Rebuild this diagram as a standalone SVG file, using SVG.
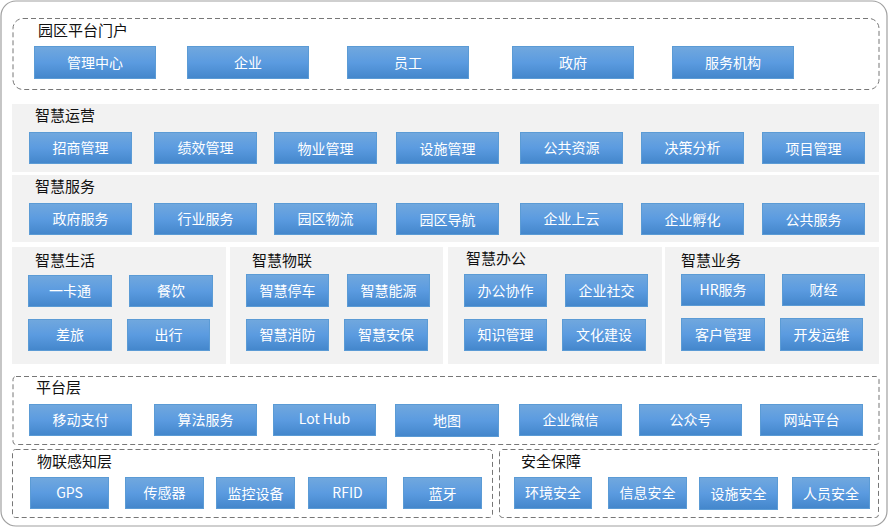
<svg xmlns="http://www.w3.org/2000/svg" width="889" height="528" viewBox="0 0 889 528">
<defs>
<linearGradient id="bg" x1="0" y1="0" x2="0" y2="1">
<stop offset="0" stop-color="#71a8de"/>
<stop offset="0.5" stop-color="#5b9be0"/>
<stop offset="1" stop-color="#4386cb"/>
</linearGradient>
</defs>
<style>
.b rect{fill:url(#bg);stroke:#5b9bd5;stroke-width:1}
.b text{fill:#fff;font-family:"Noto Sans CJK SC","Microsoft YaHei",sans-serif;font-size:14px;text-anchor:middle;dominant-baseline:central}
.lbl{fill:#111;font-family:"Noto Sans CJK SC",sans-serif;font-size:15px}
.dash{fill:none;stroke:#777;stroke-width:1;stroke-dasharray:5 3}
.band{fill:#f2f2f2}
</style>
<rect x="1" y="1" width="886" height="525" rx="15" fill="#fff" stroke="#a0a0a0" stroke-width="1.2"/>
<g id="containers">
<rect class="dash" x="13" y="18.5" width="866" height="71" rx="10"/>
<rect class="band" x="12" y="104" width="867" height="68"/>
<rect class="band" x="12" y="175" width="867" height="67"/>
<rect class="band" x="12" y="247" width="214" height="117"/>
<rect class="band" x="230" y="247" width="213" height="117"/>
<rect class="band" x="448" y="247" width="214" height="117"/>
<rect class="band" x="665" y="247" width="214" height="117"/>
<rect class="dash" x="13" y="376.5" width="866" height="68" rx="3"/>
<rect class="dash" x="12.5" y="449.5" width="480" height="68" rx="3"/>
<rect class="dash" x="499.5" y="449.5" width="379" height="68" rx="3"/>
</g>
<g id="labels">
<text class="lbl" x="38" y="36">园区平台门户</text>
<text class="lbl" x="35" y="121">智慧运营</text>
<text class="lbl" x="35" y="192">智慧服务</text>
<text class="lbl" x="35" y="266">智慧生活</text>
<text class="lbl" x="252" y="266">智慧物联</text>
<text class="lbl" x="466" y="264">智慧办公</text>
<text class="lbl" x="681" y="266">智慧业务</text>
<text class="lbl" x="36" y="393">平台层</text>
<text class="lbl" x="37" y="467">物联感知层</text>
<text class="lbl" x="521" y="467">安全保障</text>
</g>
<g id="connectors"></g>
<g id="n-portal-1" class="b"><rect x="34.5" y="46.5" width="121" height="32"/><text x="95" y="62">管理中心</text></g>
<g id="n-portal-2" class="b"><rect x="187.5" y="46.5" width="121" height="32"/><text x="248" y="62">企业</text></g>
<g id="n-portal-3" class="b"><rect x="347.5" y="46.5" width="121" height="32"/><text x="408" y="62">员工</text></g>
<g id="n-portal-4" class="b"><rect x="512.5" y="46.5" width="121" height="32"/><text x="573" y="62">政府</text></g>
<g id="n-portal-5" class="b"><rect x="672.5" y="46.5" width="121" height="32"/><text x="733" y="62">服务机构</text></g>

<g id="n-op-1" class="b"><rect x="29.5" y="132.5" width="102" height="31"/><text x="80.5" y="147">招商管理</text></g>
<g id="n-op-2" class="b"><rect x="154.5" y="132.5" width="102" height="31"/><text x="205.5" y="147">绩效管理</text></g>
<g id="n-op-3" class="b"><rect x="274.5" y="132.5" width="102" height="31"/><text x="325.5" y="148">物业管理</text></g>
<g id="n-op-4" class="b"><rect x="396.5" y="132.5" width="102" height="31"/><text x="447.5" y="148">设施管理</text></g>
<g id="n-op-5" class="b"><rect x="520.5" y="132.5" width="102" height="31"/><text x="571.5" y="147">公共资源</text></g>
<g id="n-op-6" class="b"><rect x="641.5" y="132.5" width="102" height="31"/><text x="692.5" y="147">决策分析</text></g>
<g id="n-op-7" class="b"><rect x="762.5" y="132.5" width="102" height="31"/><text x="813.5" y="148">项目管理</text></g>

<g id="n-sv-1" class="b"><rect x="29.5" y="203.5" width="102" height="31"/><text x="80.5" y="218">政府服务</text></g>
<g id="n-sv-2" class="b"><rect x="154.5" y="203.5" width="102" height="31"/><text x="205.5" y="218">行业服务</text></g>
<g id="n-sv-3" class="b"><rect x="274.5" y="203.5" width="102" height="31"/><text x="325.5" y="218">园区物流</text></g>
<g id="n-sv-4" class="b"><rect x="396.5" y="203.5" width="102" height="31"/><text x="447.5" y="219">园区导航</text></g>
<g id="n-sv-5" class="b"><rect x="520.5" y="203.5" width="102" height="31"/><text x="571.5" y="218">企业上云</text></g>
<g id="n-sv-6" class="b"><rect x="641.5" y="203.5" width="102" height="31"/><text x="692.5" y="219">企业孵化</text></g>
<g id="n-sv-7" class="b"><rect x="762.5" y="203.5" width="102" height="31"/><text x="813.5" y="219">公共服务</text></g>

<g id="n-life-1" class="b"><rect x="28.5" y="275.5" width="83" height="31"/><text x="70" y="290">一卡通</text></g>
<g id="n-life-2" class="b"><rect x="129.5" y="275.5" width="83" height="31"/><text x="171" y="290">餐饮</text></g>
<g id="n-life-3" class="b"><rect x="28.5" y="319.5" width="83" height="31"/><text x="70" y="334">差旅</text></g>
<g id="n-life-4" class="b"><rect x="127.5" y="319.5" width="82" height="31"/><text x="168.5" y="334">出行</text></g>

<g id="n-iot-1" class="b"><rect x="246.5" y="274.5" width="82" height="32"/><text x="287.5" y="290">智慧停车</text></g>
<g id="n-iot-2" class="b"><rect x="347.5" y="274.5" width="82" height="32"/><text x="388.5" y="290">智慧能源</text></g>
<g id="n-iot-3" class="b"><rect x="246.5" y="319.5" width="82" height="31"/><text x="287.5" y="334">智慧消防</text></g>
<g id="n-iot-4" class="b"><rect x="344.5" y="319.5" width="83" height="31"/><text x="386" y="334">智慧安保</text></g>

<g id="n-off-1" class="b"><rect x="464.5" y="274.5" width="82" height="32"/><text x="505.5" y="290">办公协作</text></g>
<g id="n-off-2" class="b"><rect x="565.5" y="274.5" width="82" height="32"/><text x="606.5" y="290">企业社交</text></g>
<g id="n-off-3" class="b"><rect x="464.5" y="319.5" width="82" height="31"/><text x="505.5" y="334">知识管理</text></g>
<g id="n-off-4" class="b"><rect x="562.5" y="319.5" width="83" height="31"/><text x="604" y="334">文化建设</text></g>

<g id="n-biz-1" class="b"><rect x="681.5" y="274.5" width="83" height="31"/><text x="723" y="289">HR服务</text></g>
<g id="n-biz-2" class="b"><rect x="782.5" y="274.5" width="82" height="31"/><text x="823.5" y="289">财经</text></g>
<g id="n-biz-3" class="b"><rect x="681.5" y="318.5" width="83" height="32"/><text x="723" y="334">客户管理</text></g>
<g id="n-biz-4" class="b"><rect x="780.5" y="318.5" width="82" height="32"/><text x="821.5" y="334">开发运维</text></g>

<g id="n-pf-1" class="b"><rect x="29.5" y="404.5" width="102" height="31"/><text x="80.5" y="419">移动支付</text></g>
<g id="n-pf-2" class="b"><rect x="154.5" y="404.5" width="102" height="31"/><text x="205.5" y="419">算法服务</text></g>
<g id="n-pf-3" class="b"><rect x="273.5" y="404.5" width="102" height="31"/><text x="324.5" y="418">Lot Hub</text></g>
<g id="n-pf-4" class="b"><rect x="395.5" y="404.5" width="103" height="32"/><text x="447" y="420">地图</text></g>
<g id="n-pf-5" class="b"><rect x="519.5" y="404.5" width="102" height="31"/><text x="570.5" y="419">企业微信</text></g>
<g id="n-pf-6" class="b"><rect x="639.5" y="404.5" width="102" height="31"/><text x="690.5" y="419">公众号</text></g>
<g id="n-pf-7" class="b"><rect x="760.5" y="404.5" width="102" height="31"/><text x="811.5" y="419">网站平台</text></g>

<g id="n-sn-1" class="b"><rect x="30.5" y="477.5" width="78" height="31"/><text x="69.5" y="492">GPS</text></g>
<g id="n-sn-2" class="b"><rect x="125.5" y="477.5" width="78" height="31"/><text x="164.5" y="492">传感器</text></g>
<g id="n-sn-3" class="b"><rect x="216.5" y="477.5" width="78" height="31"/><text x="255.5" y="493">监控设备</text></g>
<g id="n-sn-4" class="b"><rect x="308.5" y="477.5" width="78" height="31"/><text x="347.5" y="492">RFID</text></g>
<g id="n-sn-5" class="b"><rect x="403.5" y="477.5" width="78" height="31"/><text x="442.5" y="493">蓝牙</text></g>

<g id="n-sec-1" class="b"><rect x="514.5" y="477.5" width="77" height="31"/><text x="553" y="492">环境安全</text></g>
<g id="n-sec-2" class="b"><rect x="608.5" y="477.5" width="78" height="31"/><text x="647.5" y="492">信息安全</text></g>
<g id="n-sec-3" class="b"><rect x="699.5" y="477.5" width="78" height="32"/><text x="738.5" y="493">设施安全</text></g>
<g id="n-sec-4" class="b"><rect x="792.5" y="477.5" width="77" height="31"/><text x="831" y="493">人员安全</text></g>
</svg>
